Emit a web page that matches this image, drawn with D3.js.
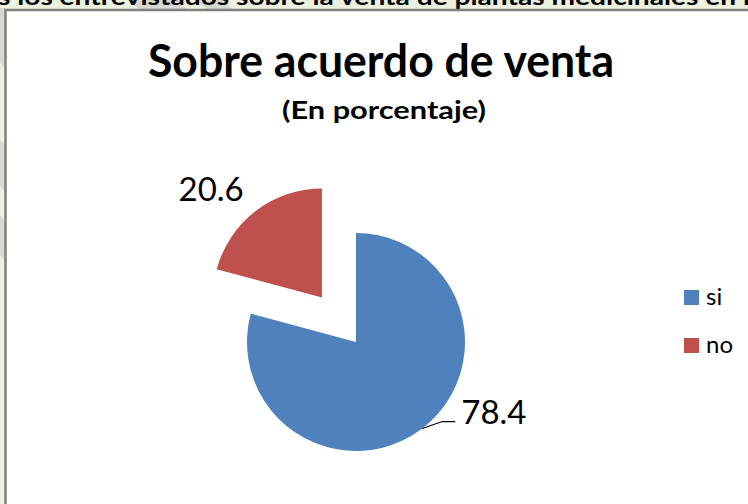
<!DOCTYPE html>
<html>
<head>
<meta charset="utf-8">
<script src="https://cdn.jsdelivr.net/npm/d3@7"></script>
<style>
  body { margin: 0; background: #ebf1de; }
  svg { display: block; }
</style>
</head>
<body>
<script>
const categories = ['si', 'no']
const values = [78.4, 20.6]
const colors = ['#4f81bd', '#c0504d']
const title = 'Sobre acuerdo de venta'
const subtitle = '(En porcentaje)'
const pageText = 's los entrevistados sobre la venta de plantas medicinales en l'

const W = 748, H = 504
const svg = d3.select('body').append('svg')
  .attr('width', W)
  .attr('height', H)

// page background with the faint diagonal stripes
svg.append('rect').attr('width', W).attr('height', H).attr('fill', '#ebf1de')
const stripes = [
  [[128, 0], [175, 0], [190, 12], [143, 12]],
  [[196, 0], [222, 0], [236, 12], [210, 12]],
  [[0, 8], [6, 8], [6, 70], [0, 62]],
  [[0, 140], [6, 145], [6, 192], [0, 186]],
  [[0, 215], [6, 222], [6, 262], [0, 255]]
]
svg.selectAll('.stripe').data(stripes).enter().append('polygon')
  .attr('class', 'stripe')
  .attr('points', d => d.map(p => p.join(',')).join(' '))
  .attr('fill', '#d6d9d1')

svg.append('text')
  .attr('x', -2).attr('y', 5)
  .attr('font-family', 'Lato, sans-serif')
  .attr('font-weight', 'bold')
  .attr('font-size', 22)
  .attr('textLength', 752)
  .attr('lengthAdjust', 'spacingAndGlyphs')
  .attr('fill', '#000')
  .text(pageText)

// chart frame
svg.append('rect')
  .attr('x', 5.5).attr('y', 10)
  .attr('width', W + 10).attr('height', H + 10)
  .attr('fill', '#fff')
  .attr('stroke', '#808080')
  .attr('stroke-width', 2.5)

svg.append('text')
  .attr('x', 381).attr('y', 77)
  .attr('text-anchor', 'middle')
  .attr('font-family', 'Lato, sans-serif')
  .attr('font-weight', 'bold')
  .attr('font-size', 45)
  .attr('textLength', 466)
  .attr('lengthAdjust', 'spacingAndGlyphs')
  .text(title)

svg.append('text')
  .attr('x', 384).attr('y', 119)
  .attr('text-anchor', 'middle')
  .attr('font-family', 'Lato, sans-serif')
  .attr('font-weight', 'bold')
  .attr('font-size', 25)
  .attr('textLength', 204)
  .attr('lengthAdjust', 'spacingAndGlyphs')
  .text(subtitle)

// pie
const cx = 356, cy = 342, r = 109, explode = 56
const pie = d3.pie().sort(null).startAngle(0)
const arcs = pie(values)
const arc = d3.arc().innerRadius(0).outerRadius(r)
const mid = d => (d.startAngle + d.endAngle) / 2
const offset = (d, dist) => [Math.sin(mid(d)) * dist, -Math.cos(mid(d)) * dist]

const g = svg.append('g').attr('transform', `translate(${cx},${cy})`)
const slices = g.selectAll('.slice').data(arcs).enter().append('g')
  .attr('class', 'slice')
  .attr('transform', (d, i) => i === 1 ? `translate(${offset(d, explode)})` : null)

slices.append('path')
  .attr('d', arc)
  .attr('fill', (d, i) => colors[i])

// label for "si" with leader line
const siArc = arcs[0]
const p0 = offset(siArc, r)
const p1 = [p0[0] + 20, p0[1] - 7]
const p2 = [p1[0] + 13, p1[1]]
g.append('polyline')
  .attr('points', [p0, p1, p2].map(p => p.join(',')).join(' '))
  .attr('fill', 'none')
  .attr('stroke', '#000')
  .attr('stroke-width', 1.2)
g.append('text')
  .attr('x', p2[0] + 6).attr('y', p2[1] + 2)
  .attr('font-family', 'Lato, sans-serif')
  .attr('font-size', 33)
  .text(values[0])

// label for "no"
const noPos = offset(arcs[1], r * 1.12)
slices.filter((d, i) => i === 1).append('text')
  .attr('x', noPos[0] - 4).attr('y', noPos[1])
  .attr('text-anchor', 'end')
  .attr('font-family', 'Lato, sans-serif')
  .attr('font-size', 33)
  .text(values[1])

// legend
const legend = svg.append('g').attr('transform', 'translate(684,290)')
const item = legend.selectAll('.item').data(categories).enter().append('g')
  .attr('class', 'item')
  .attr('transform', (d, i) => `translate(0,${i * 48})`)
item.append('rect')
  .attr('width', 15).attr('height', 15)
  .attr('fill', (d, i) => colors[i])
item.append('text')
  .attr('x', 22).attr('y', 15)
  .attr('font-family', 'Lato, sans-serif')
  .attr('font-size', 24)
  .text(d => d)
</script>
</body>
</html>
